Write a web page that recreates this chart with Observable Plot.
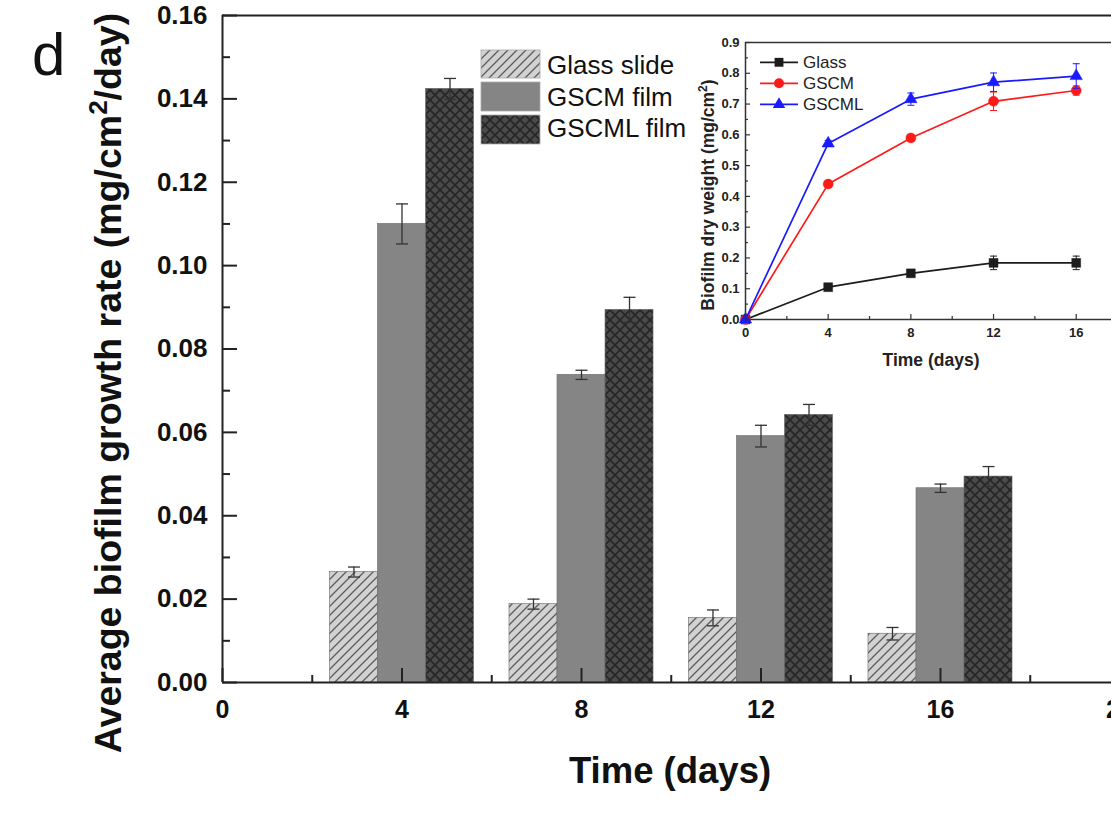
<!DOCTYPE html>
<html><head><meta charset="utf-8">
<script src="https://cdn.jsdelivr.net/npm/d3@7"></script>
<script src="https://cdn.jsdelivr.net/npm/@observablehq/plot@0.6"></script>
<style>
body{margin:0;background:#fff;}
#wrap{position:relative;width:1111px;height:836px;overflow:hidden;font-family:"Liberation Sans",Arial,sans-serif;}
#wrap svg{position:absolute;overflow:visible;}
</style></head><body><div id="wrap"></div>
<script>
// ---------- main chart data ----------
const days = [4, 8, 12, 16];
const seriesNames = ["Glass slide", "GSCM film", "GSCML film"];
const glassRate = [0.0265, 0.0188, 0.0155, 0.0117];
const glassErr  = [0.0012, 0.0012, 0.0019, 0.0015];
const gscmRate  = [0.1100, 0.0738, 0.0591, 0.0466];
const gscmErr   = [0.0048, 0.0011, 0.0026, 0.0010];
const gscmlRate = [0.1424, 0.0894, 0.0642, 0.0494];
const gscmlErr  = [0.0025, 0.0030, 0.0025, 0.0024];
const xTicks = [0, 4, 8, 12, 16, 20];
const xMinorTicks = [2, 6, 10, 14, 18];
const yTicks = [0, 0.02, 0.04, 0.06, 0.08, 0.10, 0.12, 0.14, 0.16];
const yMinorTicks = [0.01, 0.03, 0.05, 0.07, 0.09, 0.11, 0.13, 0.15];

// ---------- inset data ----------
const insetDays = [0, 4, 8, 12, 16];
const insetNames = ["Glass", "GSCM", "GSCML"];
const glassWeight = [0, 0.105, 0.150, 0.184, 0.184];
const glassWErr   = [0, 0.010, 0.010, 0.022, 0.022];
const gscmWeight  = [0, 0.440, 0.590, 0.709, 0.744];
const gscmWErr    = [0, 0.010, 0.010, 0.030, 0.015];
const gscmlWeight = [0, 0.572, 0.716, 0.771, 0.791];
const gscmlWErr   = [0, 0.010, 0.020, 0.030, 0.040];
const insetXTicks = [0, 4, 8, 12, 16];
const insetXMinor = [2, 6, 10, 14];
const insetYTicks = [0, 0.1, 0.2, 0.3, 0.4, 0.5, 0.6, 0.7, 0.8, 0.9];
const insetYMinor = [0.05, 0.15, 0.25, 0.35, 0.45, 0.55, 0.65, 0.75, 0.85];

const FONT = '"Liberation Sans", Arial, Helvetica, sans-serif';
const capSymbol = {draw(ctx, size) { const r = Math.sqrt(size / Math.PI); ctx.moveTo(-r, 0); ctx.lineTo(r, 0); }};

// ---------- main chart ----------
const W = 1111, H = 836, mL = 222, mT = 15, mB = 154, mR = 0;
const frameW = W - mL - mR, frameH = H - mT - mB;
const pxPerDay = 44.875;
const xMax = frameW / pxPerDay;
const barW = 1.07;
const AX = "#222";

const rows = (vals, errs, k) => days.map((d, i) => ({day: d, xc: d + k * barW, value: vals[i], err: errs[i]}));
const mainSeries = [
  {data: rows(glassRate, glassErr, -1), fill: "url(#hatch)"},
  {data: rows(gscmRate, gscmErr, 0), fill: "#858585"},
  {data: rows(gscmlRate, gscmlErr, 1), fill: "url(#cross)"}
];

const barMarks = mainSeries.map(s => Plot.rect(s.data, {
  x1: d => d.xc - barW / 2, x2: d => d.xc + barW / 2, y1: 0, y2: "value",
  fill: s.fill, stroke: "#6a6a6a", strokeWidth: 0.6
}));
const errMarks = mainSeries.flatMap(s => [
  Plot.ruleX(s.data, {x: "xc", y1: d => d.value - d.err, y2: d => d.value + d.err, stroke: "#333", strokeWidth: 1.3}),
  Plot.dot(s.data, {x: "xc", y: d => d.value + d.err, symbol: capSymbol, r: 6, fill: "none", stroke: "#333", strokeWidth: 1.3}),
  Plot.dot(s.data, {x: "xc", y: d => d.value - d.err, symbol: capSymbol, r: 6, fill: "none", stroke: "#333", strokeWidth: 1.3})
]);

const main = Plot.plot({
  width: W, height: H, marginLeft: mL, marginTop: mT, marginBottom: mB, marginRight: mR,
  x: {domain: [0, xMax], label: null},
  y: {domain: [0, 0.16], label: null},
  style: {fontFamily: FONT, background: "transparent", color: "#111", overflow: "visible"},
  marks: [
    ...barMarks,
    ...errMarks,
    Plot.tickX(xTicks.filter(t => t <= xMax), {x: d => d, insetTop: frameH - 14, stroke: AX, strokeWidth: 2}),
    Plot.tickX(xMinorTicks.filter(t => t <= xMax), {x: d => d, insetTop: frameH - 7, stroke: AX, strokeWidth: 2}),
    Plot.tickY(yTicks, {y: d => d, insetRight: frameW - 15, stroke: AX, strokeWidth: 2}),
    Plot.tickY(yMinorTicks, {y: d => d, insetRight: frameW - 8, stroke: AX, strokeWidth: 2}),
    Plot.ruleX([0], {stroke: AX, strokeWidth: 2}),
    Plot.ruleY([0, 0.16], {stroke: AX, strokeWidth: 2}),
    Plot.axisY({ticks: yTicks, tickSize: 0, tickPadding: 15, tickFormat: d3.format(".2f"), fontSize: 26, fontWeight: "bold", label: null}),
    Plot.axisX({ticks: xTicks, tickSize: 0, tickPadding: 18, tickFormat: d => String(d), fontSize: 25, fontWeight: "bold", label: null})
  ]
});

const ms = d3.select(main);
const defs = ms.insert("defs", ":first-child");
const hatch = defs.append("pattern").attr("id", "hatch").attr("patternUnits", "userSpaceOnUse").attr("width", 9).attr("height", 9);
hatch.append("rect").attr("width", 9).attr("height", 9).attr("fill", "#d2d2d2");
hatch.append("path").attr("d", "M-1,1 L1,-1 M0,9 L9,0 M8,10 L10,8").attr("stroke", "#5c5c5c").attr("stroke-width", 1.3);
const cross = defs.append("pattern").attr("id", "cross").attr("patternUnits", "userSpaceOnUse").attr("width", 10).attr("height", 10);
cross.append("rect").attr("width", 10).attr("height", 10).attr("fill", "#4a4a4a");
cross.append("path").attr("d", "M0,0 L10,10 M10,0 L0,10").attr("stroke", "#262626").attr("stroke-width", 1.7);

// legend
const legFills = ["url(#hatch)", "#858585", "url(#cross)"];
const legRects = [[50, 28], [82, 29], [115, 29]];
const lg = ms.append("g").attr("text-anchor", "start");
seriesNames.forEach((n, i) => {
  lg.append("rect").attr("x", 481).attr("y", legRects[i][0]).attr("width", 59).attr("height", legRects[i][1])
    .attr("fill", legFills[i]).attr("stroke", "#aaa").attr("stroke-width", 0.8);
  lg.append("text").attr("x", 547).attr("y", [73.5, 105.5, 137][i]).attr("font-size", 26).attr("text-anchor", "start")
    .attr("font-family", FONT).attr("fill", "#111").text(n);
});

// titles
ms.append("text").attr("x", 32).attr("y", 75).attr("text-anchor", "start").attr("font-size", 60).attr("font-family", FONT).attr("fill", "#111").text("d");
const yt = ms.append("text").attr("transform", "translate(121,383) rotate(-90)").attr("text-anchor", "middle")
  .attr("font-size", 37.5).attr("font-weight", "bold").attr("font-family", FONT).attr("fill", "#111");
yt.append("tspan").text("Average biofilm growth rate (mg/cm");
yt.append("tspan").attr("font-size", 26).attr("dy", -14).text("2");
yt.append("tspan").attr("dy", 14).text("/day)");
ms.append("text").attr("x", 670).attr("y", 783).attr("text-anchor", "middle").attr("font-size", 36.5)
  .attr("font-weight", "bold").attr("font-family", FONT).attr("fill", "#111").text("Time (days)");

main.style.left = "0px"; main.style.top = "0px";
document.getElementById("wrap").appendChild(main);

// ---------- inset ----------
const iW = 421, iH = 360, imL = 55, imT = 22, imB = 61, imR = 0;
const iFrameW = iW - imL - imR, iFrameH = iH - imT - imB;
const iPxPerDay = 20.67;
const ixMax = iFrameW / iPxPerDay;
const iColors = ["#1c1c1c", "#ff1a1a", "#1a1aff"];
const iSymbols = ["square", "circle", "triangle"];
const iR = [5, 5, 4.6];
const iRows = (vals, errs) => insetDays.map((d, i) => ({day: d, value: vals[i], err: errs[i]}));
const insetSeries = [iRows(glassWeight, glassWErr), iRows(gscmWeight, gscmWErr), iRows(gscmlWeight, gscmlWErr)];

const insetMarks = insetSeries.flatMap((data, k) => [
  Plot.line(data, {x: "day", y: "value", stroke: iColors[k], strokeWidth: 1.7}),
  Plot.ruleX(data.filter(d => d.err > 0), {x: "day", y1: d => d.value - d.err, y2: d => d.value + d.err, stroke: iColors[k], strokeWidth: 1}),
  Plot.dot(data.filter(d => d.err > 0), {x: "day", y: d => d.value + d.err, symbol: capSymbol, r: 3.5, fill: "none", stroke: iColors[k], strokeWidth: 1}),
  Plot.dot(data.filter(d => d.err > 0), {x: "day", y: d => d.value - d.err, symbol: capSymbol, r: 3.5, fill: "none", stroke: iColors[k], strokeWidth: 1}),
  Plot.dot(data, {x: "day", y: "value", symbol: iSymbols[k], r: iR[k], fill: iColors[k], stroke: iColors[k], strokeWidth: 0.5})
]);

const inset = Plot.plot({
  width: iW, height: iH, marginLeft: imL, marginTop: imT, marginBottom: imB, marginRight: imR,
  x: {domain: [0, ixMax], label: null},
  y: {domain: [0, 0.9], label: null},
  style: {fontFamily: FONT, background: "transparent", color: "#222", overflow: "visible"},
  marks: [
    ...insetMarks,
    Plot.tickX(insetXTicks, {x: d => d, insetTop: iFrameH - 5, stroke: "#333", strokeWidth: 1.2}),
    Plot.tickX(insetXMinor, {x: d => d, insetTop: iFrameH - 3, stroke: "#333", strokeWidth: 1.2}),
    Plot.tickY(insetYTicks, {y: d => d, insetRight: iFrameW - 5, stroke: "#333", strokeWidth: 1.2}),
    Plot.tickY(insetYMinor, {y: d => d, insetRight: iFrameW - 3, stroke: "#333", strokeWidth: 1.2}),
    Plot.ruleX([0], {stroke: "#333", strokeWidth: 1.5}),
    Plot.ruleY([0, 0.9], {stroke: "#333", strokeWidth: 1.5}),
    Plot.axisY({ticks: insetYTicks, tickSize: 0, tickPadding: 6, tickFormat: d3.format(".1f"), fontSize: 13, fontWeight: "bold", label: null}),
    Plot.axisX({ticks: insetXTicks, tickSize: 0, tickPadding: 8, tickFormat: d => String(d), fontSize: 13, fontWeight: "bold", label: null})
  ]
});
const is = d3.select(inset);
// inset legend
const ilg = is.append("g").attr("text-anchor", "start");
insetNames.forEach((n, k) => {
  const y = [42.3, 63.3, 84.3][k];
  ilg.append("line").attr("x1", 70).attr("x2", 108).attr("y1", y).attr("y2", y).attr("stroke", iColors[k]).attr("stroke-width", 1.7);
  ilg.append("path").attr("transform", `translate(89,${y})`)
    .attr("d", d3.symbol(iSymbols[k] === "square" ? d3.symbolSquare : iSymbols[k] === "circle" ? d3.symbolCircle : d3.symbolTriangle, Math.PI * iR[k] * iR[k])())
    .attr("fill", iColors[k]);
  ilg.append("text").attr("x", 113).attr("y", [47.7, 69, 90][k]).attr("font-size", 17).attr("text-anchor", "start")
    .attr("font-family", FONT).attr("fill", "#222").text(n);
});
const iyt = is.append("text").attr("transform", "translate(24,175) rotate(-90)").attr("text-anchor", "middle")
  .attr("font-size", 17.5).attr("font-weight", "bold").attr("font-family", FONT).attr("fill", "#222");
iyt.append("tspan").text("Biofilm dry weight (mg/cm");
iyt.append("tspan").attr("font-size", 12).attr("dy", -7).text("2");
iyt.append("tspan").attr("dy", 7).text(")");
is.append("text").attr("x", 241).attr("y", 346).attr("text-anchor", "middle").attr("font-size", 17.5)
  .attr("font-weight", "bold").attr("font-family", FONT).attr("fill", "#222").text("Time (days)");

inset.style.left = "690px"; inset.style.top = "20px";
document.getElementById("wrap").appendChild(inset);
</script></body></html>
